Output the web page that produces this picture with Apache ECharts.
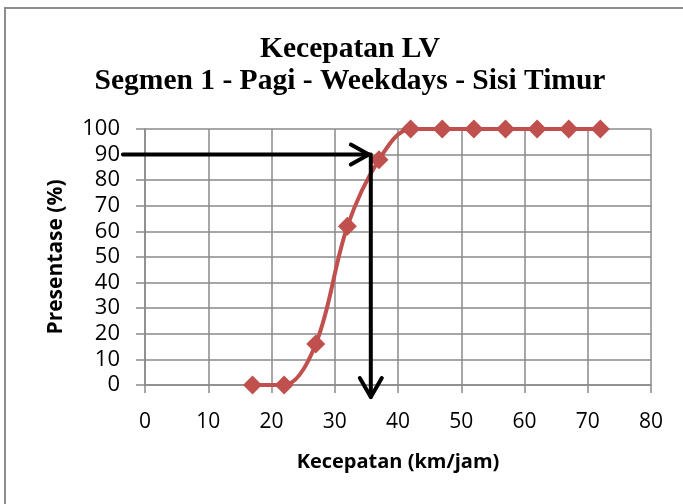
<!DOCTYPE html>
<html>
<head>
<meta charset="utf-8">
<script src="https://cdn.jsdelivr.net/npm/echarts@6/dist/echarts.min.js"></script>
<style>html,body{margin:0;padding:0;background:#fff;}#c{width:683px;height:504px;}</style>
</head>
<body>
<div id="c"></div>
<script>
const titleLines = ['Kecepatan LV', 'Segmen 1 - Pagi - Weekdays - Sisi Timur'];
const xName = 'Kecepatan (km/jam)';
const yName = 'Presentase (%)';
const speeds = [17, 22, 27, 32, 37, 42, 47, 52, 57, 62, 67, 72];
const percents = [0, 0, 16, 62, 88, 100, 100, 100, 100, 100, 100, 100];
// guide arrow: from (xStart, yLevel) to (xRead, yLevel), then down to (xRead, yEnd)
const guideArrow = [[-3.5, 90, 35.7, -4.7]];

const chart = echarts.init(document.getElementById('c'));
const tickFont = { fontFamily: 'Open Sans', fontSize: 22, color: '#000' };
const gridColor = '#8a8a8a';

chart.setOption({
  animation: false,
  backgroundColor: '#fff',
  title: {
    text: titleLines.join('\n'),
    left: 345, top: 28, textAlign: 'center',
    textStyle: { fontFamily: 'Liberation Serif', fontWeight: 'bold', fontSize: 29.5, lineHeight: 32, color: '#000' }
  },
  graphic: [{
    type: 'rect', shape: { x: 5, y: 8, width: 720, height: 540 },
    style: { fill: 'none', stroke: '#8c8c8c', lineWidth: 2 }, silent: true, z: -1
  }],
  grid: { left: 145, right: 32, top: 129, bottom: 119 },
  xAxis: {
    type: 'value', min: 0, max: 80, interval: 10,
    name: xName, nameLocation: 'middle', nameGap: 67,
    nameTextStyle: { fontFamily: 'Open Sans', fontWeight: 'bold', fontSize: 20, color: '#000' },
    axisLine: { show: true, onZero: false, lineStyle: { color: gridColor, width: 1.5 } },
    axisTick: { show: true, length: 8, inside: false, lineStyle: { color: gridColor, width: 1.5 } },
    axisLabel: Object.assign({ margin: 27 }, tickFont, { fontSize: 21 }),
    splitLine: { show: true, lineStyle: { color: gridColor, width: 1.5 } }
  },
  yAxis: {
    type: 'value', min: 0, max: 100, interval: 10,
    name: yName, nameLocation: 'middle', nameGap: 78, nameRotate: 90,
    nameTextStyle: { fontFamily: 'Open Sans', fontWeight: 'bold', fontSize: 21, color: '#000' },
    axisLine: { show: true, onZero: false, lineStyle: { color: gridColor, width: 1.5 } },
    axisTick: { show: true, length: 9, lineStyle: { color: gridColor, width: 1.5 } },
    axisLabel: Object.assign({ margin: 25 }, tickFont),
    splitLine: { show: true, lineStyle: { color: gridColor, width: 1.5 } }
  },
  series: [{
    type: 'line',
    data: speeds.map((s, i) => [s, percents[i]]),
    smooth: 0.35,
    clip: false,
    symbol: 'diamond', symbolSize: 19,
    lineStyle: { color: '#C0504D', width: 4 },
    itemStyle: { color: '#C0504D' },
    z: 3
  }, {
    type: 'custom',
    clip: false,
    z: 5,
    data: guideArrow,
    renderItem: function (params, api) {
      const a = api.coord([api.value(0), api.value(1)]);
      const b = api.coord([api.value(2), api.value(1)]);
      const c = api.coord([api.value(2), api.value(3)]);
      const st = { stroke: '#000', lineWidth: 4, fill: 'none', lineCap: 'round', lineJoin: 'round' };
      return {
        type: 'group',
        children: [
          { type: 'polyline', shape: { points: [a, b, c] }, style: st },
          { type: 'polyline', shape: { points: [[b[0] - 20, b[1] - 10], [b[0] - 2, b[1]], [b[0] - 20, b[1] + 10]] }, style: st },
          { type: 'polyline', shape: { points: [[c[0] - 11, c[1] - 19], c, [c[0] + 11, c[1] - 19]] }, style: st }
        ]
      };
    }
  }]
});
</script>
</body>
</html>
